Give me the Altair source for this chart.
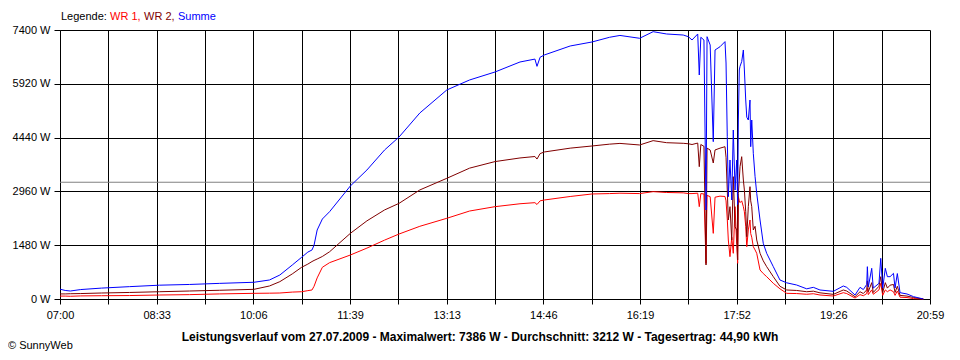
import altair as alt
import pandas as pd

# ---- data ----
# minutes after 07:00
t_min = [0, 5, 10, 20, 40, 67, 96, 125, 154, 187, 202, 212, 224, 233, 239, 243, 245, 248, 253, 260,
         280, 296, 313, 327, 347, 373, 395, 419.5, 443.6, 458, 460, 463, 467, 492, 513, 530, 540, 559,
         572, 585, 601, 606, 609.5, 615, 616.5, 618, 621, 623, 624, 627, 630, 631.7, 636.5, 641.3,
         642.3, 643.5, 644.5, 646.1, 647.8, 649.3, 651, 652.6, 653.5, 654.2, 655.1, 655.8, 657.4, 659,
         660, 661.3, 662.3, 663.8, 665.4, 666.1, 667.1, 668.6, 670.3, 671.9, 675.1, 678.2, 681.5,
         687.9, 694.3, 700.8, 710.4, 720.1, 726.5, 732.9, 745.8, 755.4, 758.7, 766.7, 771.5, 774.7,
         778, 778.6, 779.5, 782.8, 784.3, 789.8, 791.5, 793.4, 795.9, 797.9, 800.5, 803.8, 805.3,
         807.5, 810.1, 816.8, 823.2, 832.6]
wr1 = [80, 80, 75, 85, 90, 95, 110, 120, 140, 156, 160, 165, 190, 200, 230, 248, 350, 580, 872, 1000,
       1210, 1400, 1620, 1788, 2000, 2220, 2420, 2540, 2620, 2650, 2600, 2700, 2723, 2820, 2889, 2900,
       2910, 2900, 2953, 2930, 2920, 2900, 2900, 2910, 2540, 2900, 2890, 982, 2850, 2815, 1806, 2800,
       2830, 2820, 2700, 2200, 1623, 1164, 1700, 1257, 2540, 1500, 982, 2815, 2700, 2650, 2700, 2540,
       2400, 2000, 1439, 1900, 2173, 1800, 1700, 1439, 1350, 1257, 798, 700, 614, 431, 280, 156, 150,
       130, 145, 110, 82, 174, 150, 27, 120, 90, 150, 300, 120, 250, 130, 250, 431, 100, 250, 200, 250,
       200, 100, 220, 50, 40, 10, 0]
wr2 = [140, 140, 145, 150, 165, 180, 200, 220, 240, 266, 358, 477, 690, 872, 960, 1030, 1060, 1100,
       1170, 1300, 1806, 2150, 2450, 2632, 3000, 3320, 3600, 3780, 3880, 3920, 3850, 4000, 4044, 4150,
       4209, 4260, 4280, 4237, 4356, 4300, 4283, 4270, 4250, 4290, 3640, 4250, 4200, 935, 4150, 4099,
       3741, 4100, 4150, 4190, 3900, 3000, 2173, 2540, 1623, 3365, 1989, 1900, 1073, 2908, 3300, 3640,
       3915, 3274, 3000, 2400, 1714, 2540, 3090, 2700, 2540, 1898, 2000, 1623, 1257, 1050, 889, 614,
       350, 248, 235, 200, 215, 170, 128, 248, 220, 64, 200, 150, 250, 500, 200, 450, 180, 350, 614,
       180, 450, 300, 380, 400, 180, 350, 100, 80, 40, 0]
summe = [270, 235, 220, 260, 300, 340, 380, 400, 430, 460, 523, 660, 935, 1147, 1290, 1348, 1480, 1898,
         2200, 2402, 3109, 3549, 4099, 4457, 5117, 5750, 6025, 6245, 6520, 6600, 6400, 6650, 6712, 6960,
         7070, 7200, 7250, 7172, 7354, 7290, 7262, 7216, 7125, 7290, 6162, 7200, 7125, 2448, 7216, 6987,
         4328, 6850, 6940, 7080, 6492, 4465, 2814, 3824, 2723, 4649, 2998, 3824, 2600, 4924, 6300, 6400,
         6530, 6850, 6300, 5474, 5000, 4924, 5474, 4190, 4924, 4008, 3365, 2908, 2173, 1532, 1257, 889,
         523, 445, 385, 280, 321, 248, 211, 358, 321, 110, 321, 260, 400, 889, 330, 844, 300, 431, 1119,
         300, 844, 614, 614, 706, 300, 700, 174, 138, 64, 0]

series_names = ["WR 1", "WR 2", "Summe"]
series_colors = ["#ff0000", "#800000", "#0000ff"]
x_tick_labels = ["07:00", "08:33", "10:06", "11:39", "13:13", "14:46", "16:19", "17:52", "19:26", "20:59"]
span_min = 839
y_ticks = [0, 1480, 2960, 4440, 5920, 7400]
avg_w = 3212
title_text = ("Leistungsverlauf vom 27.07.2009 - Maximalwert: 7386 W - Durchschnitt: 3212 W"
              " - Tagesertrag: 44,90 kWh")

FONT = "Liberation Sans"
n_ticks = 2 * (len(x_tick_labels) - 1)
x_tick_values = [i * span_min / n_ticks for i in range(n_ticks + 1)]
lab_arr = "[" + ",".join("'" + s + "'" for s in x_tick_labels) + "]"
idx = f"round(datum.value*{n_ticks}/{span_min})"
x_label_expr = f"({idx} % 2 == 0) ? {lab_arr}[{idx}/2] : ''"

x_enc = alt.X("t:Q", title=None,
              scale=alt.Scale(domain=[0, span_min], nice=False, zero=False),
              axis=alt.Axis(values=x_tick_values, labelExpr=x_label_expr, grid=True,
                            tickSize=5, labelPadding=5, labelFlush=False, labelOverlap=False))
y_enc = alt.Y("w:Q", title=None,
              scale=alt.Scale(domain=[0, 7400], nice=False),
              axis=alt.Axis(values=y_ticks, labelExpr="datum.value + ' W'", grid=True,
                            tickSize=6, labelPadding=4))

avg_rule = alt.Chart(pd.DataFrame({"w": [avg_w]})).mark_rule(
    color="#808080", strokeWidth=1).encode(y=y_enc)

lines = []
for name, vals, col in zip(series_names, [wr1, wr2, summe], series_colors):
    df = pd.DataFrame({"t": t_min, "w": vals})
    lines.append(alt.Chart(df).mark_line(color=col, strokeWidth=1).encode(x=x_enc, y=y_enc))

one = pd.DataFrame({"k": [0]})


def txt(text, x, y, color="black", size=11, weight="normal", align="left", baseline="middle"):
    return alt.Chart(one).mark_text(text=text, color=color, fontSize=size, font=FONT,
                                    fontWeight=weight, align=align, baseline=baseline).encode(
        x=alt.value(x), y=alt.value(y))


legend_layers = [
    txt("Legende:", 1, -13),
    txt(series_names[0] + ",", 50, -13, series_colors[0]),
    txt(series_names[1] + ",", 84, -13, series_colors[1]),
    txt(series_names[2], 118, -13, series_colors[2]),
]
title_layer = txt(title_text, 420, 307, size=12, weight="bold", align="center")
logo_layer = txt("\u00a9 SunnyWeb", -52, 321, size=11, baseline="bottom")

chart = alt.layer(avg_rule, *lines, *legend_layers, title_layer, logo_layer).properties(
    width=870, height=269,
    autosize=alt.AutoSizeParams(type="none"),
    padding={"left": 52, "top": 22, "right": 22, "bottom": 53},
    background="white",
).configure_view(stroke=None).configure_axis(
    domainColor="black", tickColor="black", gridColor="black", gridOpacity=1,
    labelColor="black", labelFont=FONT, labelFontSize=11,
    domainWidth=1, gridWidth=1, tickWidth=1,
)

chart.save("out.html", embed_options={"renderer": "svg", "actions": False})
